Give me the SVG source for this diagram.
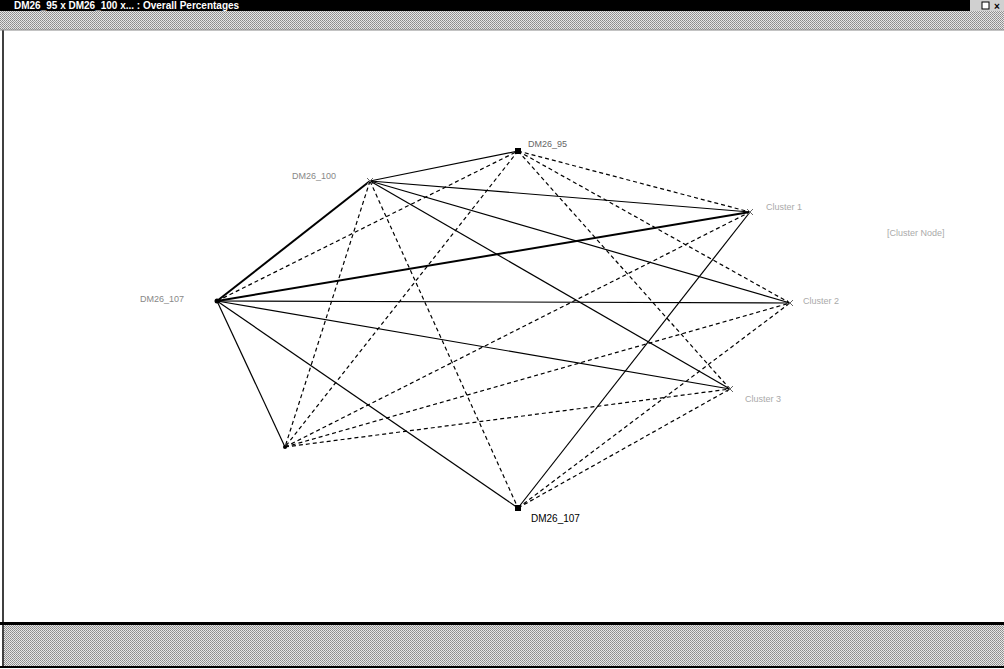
<svg xmlns="http://www.w3.org/2000/svg" width="1004" height="669" viewBox="0 0 1004 669">
<defs>
<pattern id="dither" width="2" height="2" patternUnits="userSpaceOnUse">
<rect width="2" height="2" fill="#e6e6e6"/>
<rect width="1" height="1" fill="#8a8a8a"/>
<rect x="1" y="1" width="1" height="1" fill="#9a9a9a"/>
</pattern>
<style>
.s{stroke:#000;stroke-width:1.2;fill:none}
.t{stroke:#000;stroke-width:2;fill:none}
.d{stroke:#000;stroke-width:1.2;stroke-dasharray:4 3;fill:none}
.lbl{font-family:"Liberation Sans",Arial,sans-serif;font-size:9px;fill:#888}
.lblk{font-family:"Liberation Sans",Arial,sans-serif;font-size:10px;fill:#000}
.x{stroke:#666;stroke-width:1;fill:none}
</style>
</defs>
<rect width="1004" height="669" fill="#fff"/>
<g id="chrome">
<rect x="0" y="0" width="1004" height="11" fill="#000"/>
<text x="14" y="9" font-family="Liberation Sans,Arial,sans-serif" font-size="10" font-weight="bold" fill="#fff">DM26_95 x DM26_100 x... : Overall Percentages</text>
<rect x="970" y="0" width="34" height="11" fill="#d0d0d0"/>
<text x="972" y="10" font-family="Liberation Sans,Arial,sans-serif" font-size="11" font-weight="bold" fill="#000">_</text>
<rect x="982" y="2" width="7" height="7" fill="#fff" stroke="#000"/>
<text x="994" y="10" font-family="Liberation Sans,Arial,sans-serif" font-size="10" font-weight="bold" fill="#000">×</text>
<rect x="0" y="11" width="1004" height="19" fill="url(#dither)"/>
<rect x="0" y="30" width="1004" height="592" fill="#fff"/>
<line x1="3" y1="30" x2="3" y2="622" stroke="#000" stroke-width="1.5"/>
<line x1="0" y1="30" x2="1004" y2="30" stroke="#888" stroke-width="1"/>
<rect x="0" y="622" width="1004" height="3" fill="#000"/>
<rect x="4" y="625" width="1000" height="41" fill="url(#dither)"/>
<line x1="0" y1="667" x2="1004" y2="667" stroke="#000" stroke-width="2"/>
<line x1="3" y1="622" x2="3" y2="667" stroke="#000" stroke-width="1.5"/>
</g>
<g id="connectors">
<line class="t" x1="217" y1="301" x2="370" y2="181"/>
<line class="t" x1="217" y1="301" x2="750" y2="212"/>
<line class="d" x1="217" y1="301" x2="518" y2="151"/>
<line class="s" x1="217" y1="301" x2="790" y2="303"/>
<line class="s" x1="217" y1="301" x2="730" y2="389"/>
<line class="s" x1="217" y1="301" x2="518" y2="508"/>
<line class="s" x1="217" y1="301" x2="285" y2="447"/>
<line class="s" x1="370" y1="181" x2="518" y2="151"/>
<line class="s" x1="370" y1="181" x2="750" y2="212"/>
<line class="s" x1="370" y1="181" x2="790" y2="303"/>
<line class="s" x1="370" y1="181" x2="730" y2="389"/>
<line class="d" x1="370" y1="181" x2="518" y2="508"/>
<line class="d" x1="370" y1="181" x2="285" y2="447"/>
<line class="d" x1="518" y1="151" x2="750" y2="212"/>
<line class="d" x1="518" y1="151" x2="790" y2="303"/>
<line class="d" x1="518" y1="151" x2="730" y2="389"/>
<line class="d" x1="518" y1="151" x2="285" y2="447"/>
<line class="s" x1="518" y1="508" x2="750" y2="212"/>
<line class="d" x1="518" y1="508" x2="790" y2="303"/>
<line class="d" x1="518" y1="508" x2="730" y2="389"/>
<line class="d" x1="285" y1="447" x2="750" y2="212"/>
<line class="d" x1="285" y1="447" x2="790" y2="303"/>
<line class="d" x1="285" y1="447" x2="730" y2="389"/>
</g>
<g id="node-dm26-95">
<rect x="515" y="148" width="6" height="6" fill="#000"/>
<text class="lbl" x="528" y="147" style="fill:#666">DM26_95</text>
</g>
<g id="node-dm26-100">
<path class="x" d="M367 178l6 6M373 178l-6 6"/>
<text class="lbl" x="292" y="179">DM26_100</text>
</g>
<g id="node-cluster1">
<path class="x" d="M747 209l6 6M753 209l-6 6"/>
<text class="lbl" x="766" y="210" style="fill:#aaa">Cluster 1</text>
</g>
<g id="node-legend">
<text class="lbl" x="887" y="236" style="fill:#aaa">[Cluster Node]</text>
</g>
<g id="node-cluster2">
<path class="x" d="M787 300l6 6M793 300l-6 6"/>
<text class="lbl" x="803" y="304" style="fill:#aaa">Cluster 2</text>
</g>
<g id="node-cluster3">
<path class="x" d="M727 386l6 6M733 386l-6 6"/>
<text class="lbl" x="745" y="402" style="fill:#aaa">Cluster 3</text>
</g>
<g id="node-dm26-107-left">
<circle cx="217" cy="301" r="2.5" fill="#000"/>
<text class="lbl" x="140" y="302">DM26_107</text>
</g>
<g id="node-g">
<circle cx="285" cy="447" r="2" fill="#000"/>
</g>
<g id="node-dm26-107-bottom">
<rect x="515" y="505" width="6" height="6" fill="#000"/>
<text class="lblk" x="531" y="522">DM26_107</text>
</g>
</svg>
